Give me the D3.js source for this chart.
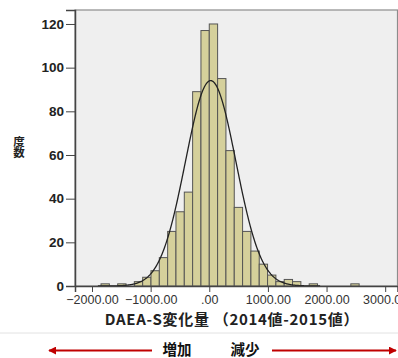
<!DOCTYPE html>
<html lang="ja">
<head>
<meta charset="UTF-8">
<title>DAEA-S変化量 ヒストグラム</title>
<script src="https://cdnjs.cloudflare.com/ajax/libs/d3/7.8.5/d3.min.js"></script>
<style>
  html, body { margin: 0; padding: 0; background: #fff; }
  svg { display: block; font-family: "Liberation Sans", Arial, sans-serif; }
  .cjk { font-family: "Noto Sans CJK JP", "Liberation Sans", sans-serif; }
</style>
</head>
<body>
<div id="chart"></div>
<script>
// bin index (bin left edge = index * binWidth) and counts
const binIndex = [-13, -12, -11, -10, -9, -8, -7, -6, -5, -4, -3, -2, -1, 0, 1, 2, 3, 4, 5, 6, 7, 8, 9, 10, 11, 12, 13, 14, 15, 16, 17];
const binCount = [1, 0, 1, 0, 2, 4, 7, 13, 25, 34, 43, 89, 117, 120, 95, 62, 36, 25, 16, 10, 5, 2, 3, 2, 0, 1, 0, 0, 0, 0, 1];
const binWidth = 142;
const yTicks = [0, 20, 40, 60, 80, 100, 120];
const xTicks = [-2000, -1000, 0, 1000, 2000, 3000];
const fitMean = 24, fitSd = 430;
const yLabel = "度数";
const xTitle = "DAEA-S変化量 （2014値-2015値）";

const W = 398, H = 358;
const svg = d3.select("#chart").append("svg").attr("width", W).attr("height", H);

const x = d3.scaleLinear().domain([-2290, 3210]).range([75, 397.5]);
const y = d3.scaleLinear().domain([0, 126.4]).range([286, 10]);

// plot background + frame
svg.append("rect")
  .attr("x", 75).attr("y", 10)
  .attr("width", 322.5).attr("height", 276)
  .attr("fill", "#efefef")
  .attr("stroke", "#8c8c8c").attr("stroke-width", 1.2);

const bins = binIndex.map((b, i) => ({ x0: b * binWidth, x1: (b + 1) * binWidth, n: binCount[i] }))
  .filter(d => d.n > 0);

svg.append("g").selectAll("rect").data(bins).join("rect")
  .attr("x", d => x(d.x0))
  .attr("width", d => x(d.x1) - x(d.x0))
  .attr("y", d => y(d.n))
  .attr("height", d => y(0) - y(d.n))
  .attr("fill", "#d5d09b")
  .attr("stroke", "#555")
  .attr("stroke-width", 1);

// fitted normal curve
const total = d3.sum(binCount);
const normal = v => total * binWidth / (fitSd * Math.sqrt(2 * Math.PI)) *
  Math.exp(-((v - fitMean) ** 2) / (2 * fitSd * fitSd));
const curvePts = d3.range(-1900, 1900, 10);
svg.append("path")
  .datum(curvePts)
  .attr("fill", "none")
  .attr("stroke", "#222")
  .attr("stroke-width", 1.3)
  .attr("d", d3.line().x(v => x(v)).y(v => y(normal(v))));

// y axis
const yAxis = svg.append("g").attr("transform", "translate(75,0)")
  .call(d3.axisLeft(y).tickValues(yTicks).tickSize(9).tickPadding(2).tickFormat(d3.format("d")));
yAxis.select(".domain").attr("stroke", "#444").attr("stroke-width", 1.5);
yAxis.selectAll(".tick line").attr("stroke", "#444");
yAxis.selectAll("text")
  .attr("font-size", 13.5).attr("font-weight", "bold").attr("fill", "#222")
  .attr("font-family", "Liberation Sans, Arial, sans-serif");

// x axis
const xAxis = svg.append("g").attr("transform", "translate(0,286)")
  .call(d3.axisBottom(x).tickValues(xTicks).tickSize(6).tickPadding(3)
    .tickFormat(d => d === 0 ? ".00" : d3.format(".2f")(d)));
xAxis.select(".domain").attr("stroke", "#444").attr("stroke-width", 1.5);
xAxis.selectAll(".tick line").attr("stroke", "#444");
xAxis.selectAll("text")
  .attr("font-size", 12.5).attr("fill", "#333")
  .attr("font-family", "Liberation Sans, Arial, sans-serif");

// axis titles (y title stacked vertically)
svg.append("text")
  .attr("class", "cjk")
  .attr("x", 19).attr("y", 136)
  .attr("writing-mode", "vertical-rl")
  .attr("font-size", 11.5).attr("font-weight", "bold").attr("fill", "#222")
  .attr("letter-spacing", -0.5)
  .text(yLabel);

svg.append("text")
  .attr("class", "cjk")
  .attr("x", 232).attr("y", 325)
  .attr("text-anchor", "middle")
  .attr("font-size", 15).attr("font-weight", "bold").attr("fill", "#222")
  .attr("letter-spacing", 0.7)
  .text(xTitle);

// separator
svg.append("line")
  .attr("x1", 0).attr("x2", W).attr("y1", 333).attr("y2", 333)
  .attr("stroke", "#e2e2e2").attr("stroke-width", 1);

// direction arrows
const defs = svg.append("defs");
defs.append("marker")
  .attr("id", "head")
  .attr("viewBox", "0 0 10 10")
  .attr("refX", 9).attr("refY", 5)
  .attr("markerWidth", 8).attr("markerHeight", 8)
  .attr("markerUnits", "userSpaceOnUse")
  .attr("orient", "auto")
  .append("path").attr("d", "M0,0 L10,5 L0,10 z").attr("fill", "#c00000");

svg.append("line")
  .attr("x1", 152).attr("y1", 350.5).attr("x2", 49).attr("y2", 350.5)
  .attr("stroke", "#c00000").attr("stroke-width", 2)
  .attr("marker-end", "url(#head)");
svg.append("line")
  .attr("x1", 272).attr("y1", 350.5).attr("x2", 396).attr("y2", 350.5)
  .attr("stroke", "#c00000").attr("stroke-width", 2)
  .attr("marker-end", "url(#head)");

svg.append("text").attr("class", "cjk")
  .attr("x", 177).attr("y", 355)
  .attr("text-anchor", "middle")
  .attr("font-size", 14.5).attr("font-weight", "bold").attr("fill", "#111")
  .text("増加");
svg.append("text").attr("class", "cjk")
  .attr("x", 245).attr("y", 355)
  .attr("text-anchor", "middle")
  .attr("font-size", 14.5).attr("font-weight", "bold").attr("fill", "#111")
  .text("減少");
</script>
</body>
</html>
